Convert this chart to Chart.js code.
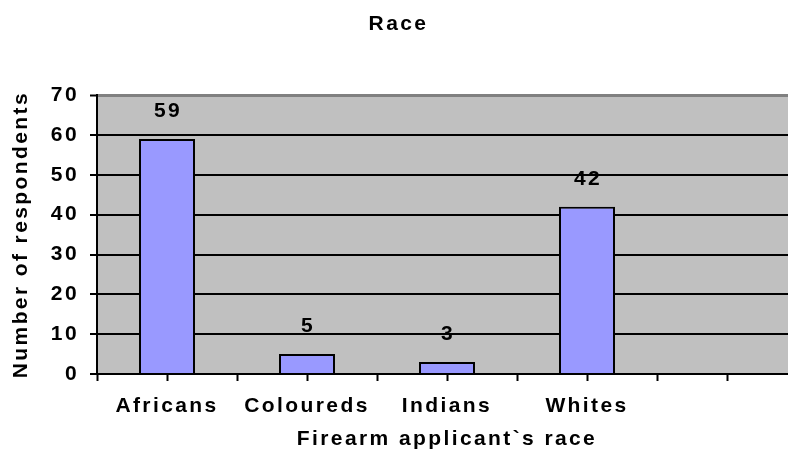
<!DOCTYPE html>
<html lang="en">
<head>
  <meta charset="UTF-8">
  <meta name="viewport" content="width=device-width, initial-scale=1.0">
  <title>Race</title>
  <style>
    html, body {
      margin: 0;
      padding: 0;
      background: #fff;
      overflow: hidden;
    }
    /* plot area runs a little past the right edge of the window, as in the reference */
    .chart-container {
      position: relative;
      width: 800px;
      height: 460px;
    }
  </style>
</head>
<body>

  <div class="chart-container">
    <canvas id="raceChart"></canvas>
  </div>

  <script src="https://cdn.jsdelivr.net/npm/chart.js@4.4.1/dist/chart.umd.min.js"></script>

  <script>
    // Data
    const categories = ["Africans", "Coloureds", "Indians", "Whites", ""];
    const respondents = [59, 5, 3, 42, null];
    const yMin = 0;
    const yMax = 70;
    const yStep = 10;
    // tick marks on the category axis sit every half category
    const tickSlots = categories.flatMap(() => ["", ""]);

    const fontFamily = "'Liberation Sans', Arial, Helvetica, sans-serif";
    const boldFont = { family: fontFamily, size: 21, weight: "bold" };
    const letterSpacing = "2.4px"; // the old Excel text is drawn wide

    // wide text everywhere (context state is reset on every resize)
    const wideText = {
      id: "wideText",
      beforeUpdate(chart) { chart.ctx.letterSpacing = letterSpacing; },
      beforeDraw(chart) { chart.ctx.letterSpacing = letterSpacing; }
    };

    // grey plot area
    const plotBackground = {
      id: "plotBackground",
      beforeDraw(chart) {
        const { ctx, chartArea: a } = chart;
        ctx.save();
        ctx.fillStyle = "#C0C0C0";
        ctx.fillRect(a.left, a.top, a.right - a.left, a.bottom - a.top);
        ctx.restore();
      }
    };

    // value above each bar
    const barValues = {
      id: "barValues",
      afterDatasetsDraw(chart) {
        const { ctx } = chart;
        const meta = chart.getDatasetMeta(0);
        ctx.save();
        ctx.font = `bold ${boldFont.size}px ${fontFamily}`;
        ctx.fillStyle = "#000";
        ctx.textAlign = "center";
        ctx.textBaseline = "middle";
        meta.data.forEach((bar, i) => {
          const v = chart.data.datasets[0].data[i];
          if (v == null) return;
          ctx.fillText(String(v), bar.x + 1, bar.y - 28);
        });
        ctx.restore();
      }
    };

    const ctx = document.getElementById("raceChart").getContext("2d");
    new Chart(ctx, {
      type: "bar",
      data: {
        labels: categories,
        datasets: [{
          data: respondents,
          xAxisID: "x",
          yAxisID: "y",
          backgroundColor: "#9999FF",
          borderColor: "#000",
          borderWidth: 2,
          borderSkipped: "start",
          barPercentage: 1,
          categoryPercentage: 0.4
        }]
      },
      options: {
        responsive: true,
        maintainAspectRatio: false,
        animation: false,
        layout: { padding: { left: 0, right: 3, top: 0, bottom: 0 } },
        scales: {
          x: {
            position: "bottom",
            offset: true,
            weight: 1,
            grid: { display: false, drawTicks: false },
            border: { display: false },
            ticks: {
              color: "#000",
              font: boldFont,
              padding: 13,
              autoSkip: false,
              maxRotation: 0
            },
            title: {
              display: true,
              text: "Firearm applicant`s race",
              color: "#000",
              font: boldFont,
              padding: { top: 0, bottom: 8 }
            },
            afterFit: s => { s.height = 79; }
          },
          x2: {
            type: "category",
            labels: tickSlots,
            position: "bottom",
            offset: true,
            weight: 0,
            ticks: { display: false },
            grid: {
              offset: true,
              drawOnChartArea: false,
              tickLength: 7,
              tickWidth: 2,
              color: "#000"
            },
            border: { display: true, color: "#000", width: 2 },
            afterFit: s => { s.height = 7; }
          },
          y: {
            min: yMin,
            max: yMax,
            ticks: {
              stepSize: yStep,
              color: "#000",
              font: boldFont,
              padding: 11
            },
            grid: {
              color: c => (c.tick && c.tick.value === yMax ? "#808080" : "#000"),
              lineWidth: c => (c.tick && c.tick.value === yMax ? 3 : 2),
              tickColor: "#000",
              tickWidth: 2,
              tickLength: 7
            },
            border: { color: "#000", width: 2 },
            title: {
              display: true,
              text: "Number of respondents",
              color: "#000",
              font: boldFont,
              padding: { top: 9, bottom: 0 }
            },
            afterFit: s => { s.width = 97; }
          }
        },
        plugins: {
          legend: { display: false },
          tooltip: { enabled: false },
          title: {
            display: true,
            text: "Race",
            color: "#000",
            font: boldFont,
            padding: { top: 12, bottom: 58 }
          }
        }
      },
      plugins: [wideText, plotBackground, barValues]
    });
  </script>
</body>
</html>
